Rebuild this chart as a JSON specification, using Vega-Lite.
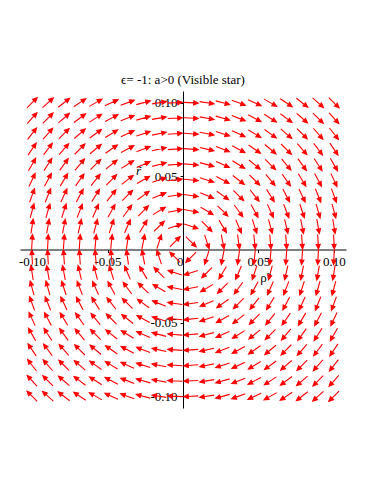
{
  "$schema": "https://vega.github.io/schema/vega-lite/v6.json",
  "autosize": {"type": "none"},
  "padding": {"left": 20, "top": 91, "right": 28, "bottom": 76},
  "width": 326,
  "height": 317,
  "background": "white",
  "title": {"text": "ϵ= -1: a>0 (Visible star)", "font": "Liberation Serif", "fontSize": 13, "fontWeight": "normal", "color": "black", "offset": 4},
  "config": {
    "view": {"stroke": null},
    "axis": {"grid": false, "labelFont": "Liberation Serif", "labelFontSize": 13, "labelColor": "black", "domainColor": "black", "tickColor": "black", "tickSize": 3, "labelPadding": 3, "labelFlush": false, "titleFont": "Liberation Serif", "titleFontSize": 13, "titleFontWeight": "normal", "titleColor": "black"}
  },
  "data": {"values": [
    {"rho":-0.1,"r":0.1,"dir":45},{"rho":-0.0895,"r":0.1,"dir":48},{"rho":-0.0789,"r":0.1,"dir":52},{"rho":-0.0684,"r":0.1,"dir":56},{"rho":-0.0579,"r":0.1,"dir":60},{"rho":-0.0474,"r":0.1,"dir":65},{"rho":-0.0368,"r":0.1,"dir":70},{"rho":-0.0263,"r":0.1,"dir":75},{"rho":-0.0158,"r":0.1,"dir":81},{"rho":-0.0053,"r":0.1,"dir":87},
    {"rho":0.0053,"r":0.1,"dir":93},{"rho":0.0158,"r":0.1,"dir":99},{"rho":0.0263,"r":0.1,"dir":105},{"rho":0.0368,"r":0.1,"dir":110},{"rho":0.0474,"r":0.1,"dir":115},{"rho":0.0579,"r":0.1,"dir":120},{"rho":0.0684,"r":0.1,"dir":124},{"rho":0.0789,"r":0.1,"dir":128},{"rho":0.0895,"r":0.1,"dir":132},{"rho":0.1,"r":0.1,"dir":135},

    {"rho":-0.1,"r":0.0895,"dir":42},{"rho":-0.0895,"r":0.0895,"dir":45},{"rho":-0.0789,"r":0.0895,"dir":49},{"rho":-0.0684,"r":0.0895,"dir":53},{"rho":-0.0579,"r":0.0895,"dir":57},{"rho":-0.0474,"r":0.0895,"dir":62},{"rho":-0.0368,"r":0.0895,"dir":68},{"rho":-0.0263,"r":0.0895,"dir":74},{"rho":-0.0158,"r":0.0895,"dir":80},{"rho":-0.0053,"r":0.0895,"dir":87},
    {"rho":0.0053,"r":0.0895,"dir":93},{"rho":0.0158,"r":0.0895,"dir":100},{"rho":0.0263,"r":0.0895,"dir":106},{"rho":0.0368,"r":0.0895,"dir":112},{"rho":0.0474,"r":0.0895,"dir":118},{"rho":0.0579,"r":0.0895,"dir":123},{"rho":0.0684,"r":0.0895,"dir":127},{"rho":0.0789,"r":0.0895,"dir":131},{"rho":0.0895,"r":0.0895,"dir":135},{"rho":0.1,"r":0.0895,"dir":138},

    {"rho":-0.1,"r":0.0789,"dir":38},{"rho":-0.0895,"r":0.0789,"dir":41},{"rho":-0.0789,"r":0.0789,"dir":45},{"rho":-0.0684,"r":0.0789,"dir":49},{"rho":-0.0579,"r":0.0789,"dir":54},{"rho":-0.0474,"r":0.0789,"dir":59},{"rho":-0.0368,"r":0.0789,"dir":65},{"rho":-0.0263,"r":0.0789,"dir":72},{"rho":-0.0158,"r":0.0789,"dir":79},{"rho":-0.0053,"r":0.0789,"dir":86},
    {"rho":0.0053,"r":0.0789,"dir":94},{"rho":0.0158,"r":0.0789,"dir":101},{"rho":0.0263,"r":0.0789,"dir":108},{"rho":0.0368,"r":0.0789,"dir":115},{"rho":0.0474,"r":0.0789,"dir":121},{"rho":0.0579,"r":0.0789,"dir":126},{"rho":0.0684,"r":0.0789,"dir":131},{"rho":0.0789,"r":0.0789,"dir":135},{"rho":0.0895,"r":0.0789,"dir":139},{"rho":0.1,"r":0.0789,"dir":142},

    {"rho":-0.1,"r":0.0684,"dir":34},{"rho":-0.0895,"r":0.0684,"dir":37},{"rho":-0.0789,"r":0.0684,"dir":41},{"rho":-0.0684,"r":0.0684,"dir":45},{"rho":-0.0579,"r":0.0684,"dir":50},{"rho":-0.0474,"r":0.0684,"dir":55},{"rho":-0.0368,"r":0.0684,"dir":62},{"rho":-0.0263,"r":0.0684,"dir":69},{"rho":-0.0158,"r":0.0684,"dir":77},{"rho":-0.0053,"r":0.0684,"dir":86},
    {"rho":0.0053,"r":0.0684,"dir":94},{"rho":0.0158,"r":0.0684,"dir":103},{"rho":0.0263,"r":0.0684,"dir":111},{"rho":0.0368,"r":0.0684,"dir":118},{"rho":0.0474,"r":0.0684,"dir":125},{"rho":0.0579,"r":0.0684,"dir":130},{"rho":0.0684,"r":0.0684,"dir":135},{"rho":0.0789,"r":0.0684,"dir":139},{"rho":0.0895,"r":0.0684,"dir":143},{"rho":0.1,"r":0.0684,"dir":146},

    {"rho":-0.1,"r":0.0579,"dir":30},{"rho":-0.0895,"r":0.0579,"dir":33},{"rho":-0.0789,"r":0.0579,"dir":36},{"rho":-0.0684,"r":0.0579,"dir":40},{"rho":-0.0579,"r":0.0579,"dir":45},{"rho":-0.0474,"r":0.0579,"dir":51},{"rho":-0.0368,"r":0.0579,"dir":58},{"rho":-0.0263,"r":0.0579,"dir":66},{"rho":-0.0158,"r":0.0579,"dir":75},{"rho":-0.0053,"r":0.0579,"dir":85},
    {"rho":0.0053,"r":0.0579,"dir":95},{"rho":0.0158,"r":0.0579,"dir":105},{"rho":0.0263,"r":0.0579,"dir":114},{"rho":0.0368,"r":0.0579,"dir":122},{"rho":0.0474,"r":0.0579,"dir":129},{"rho":0.0579,"r":0.0579,"dir":135},{"rho":0.0684,"r":0.0579,"dir":140},{"rho":0.0789,"r":0.0579,"dir":144},{"rho":0.0895,"r":0.0579,"dir":147},{"rho":0.1,"r":0.0579,"dir":150},

    {"rho":-0.1,"r":0.0474,"dir":25},{"rho":-0.0895,"r":0.0474,"dir":28},{"rho":-0.0789,"r":0.0474,"dir":31},{"rho":-0.0684,"r":0.0474,"dir":35},{"rho":-0.0579,"r":0.0474,"dir":39},{"rho":-0.0474,"r":0.0474,"dir":45},{"rho":-0.0368,"r":0.0474,"dir":52},{"rho":-0.0263,"r":0.0474,"dir":61},{"rho":-0.0158,"r":0.0474,"dir":72},{"rho":-0.0053,"r":0.0474,"dir":84},
    {"rho":0.0053,"r":0.0474,"dir":96},{"rho":0.0158,"r":0.0474,"dir":108},{"rho":0.0263,"r":0.0474,"dir":119},{"rho":0.0368,"r":0.0474,"dir":128},{"rho":0.0474,"r":0.0474,"dir":135},{"rho":0.0579,"r":0.0474,"dir":141},{"rho":0.0684,"r":0.0474,"dir":145},{"rho":0.0789,"r":0.0474,"dir":149},{"rho":0.0895,"r":0.0474,"dir":152},{"rho":0.1,"r":0.0474,"dir":155},

    {"rho":-0.1,"r":0.0368,"dir":20},{"rho":-0.0895,"r":0.0368,"dir":22},{"rho":-0.0789,"r":0.0368,"dir":25},{"rho":-0.0684,"r":0.0368,"dir":28},{"rho":-0.0579,"r":0.0368,"dir":32},{"rho":-0.0474,"r":0.0368,"dir":38},{"rho":-0.0368,"r":0.0368,"dir":45},{"rho":-0.0263,"r":0.0368,"dir":54},{"rho":-0.0158,"r":0.0368,"dir":67},{"rho":-0.0053,"r":0.0368,"dir":82},
    {"rho":0.0053,"r":0.0368,"dir":98},{"rho":0.0158,"r":0.0368,"dir":113},{"rho":0.0263,"r":0.0368,"dir":126},{"rho":0.0368,"r":0.0368,"dir":135},{"rho":0.0474,"r":0.0368,"dir":142},{"rho":0.0579,"r":0.0368,"dir":148},{"rho":0.0684,"r":0.0368,"dir":152},{"rho":0.0789,"r":0.0368,"dir":155},{"rho":0.0895,"r":0.0368,"dir":158},{"rho":0.1,"r":0.0368,"dir":160},

    {"rho":-0.1,"r":0.0263,"dir":15},{"rho":-0.0895,"r":0.0263,"dir":16},{"rho":-0.0789,"r":0.0263,"dir":18},{"rho":-0.0684,"r":0.0263,"dir":21},{"rho":-0.0579,"r":0.0263,"dir":24},{"rho":-0.0474,"r":0.0263,"dir":29},{"rho":-0.0368,"r":0.0263,"dir":36},{"rho":-0.0263,"r":0.0263,"dir":45},{"rho":-0.0158,"r":0.0263,"dir":59},{"rho":-0.0053,"r":0.0263,"dir":79},
    {"rho":0.0053,"r":0.0263,"dir":101},{"rho":0.0158,"r":0.0263,"dir":121},{"rho":0.0263,"r":0.0263,"dir":135},{"rho":0.0368,"r":0.0263,"dir":144},{"rho":0.0474,"r":0.0263,"dir":151},{"rho":0.0579,"r":0.0263,"dir":156},{"rho":0.0684,"r":0.0263,"dir":159},{"rho":0.0789,"r":0.0263,"dir":162},{"rho":0.0895,"r":0.0263,"dir":164},{"rho":0.1,"r":0.0263,"dir":165},

    {"rho":-0.1,"r":0.0158,"dir":9},{"rho":-0.0895,"r":0.0158,"dir":10},{"rho":-0.0789,"r":0.0158,"dir":11},{"rho":-0.0684,"r":0.0158,"dir":13},{"rho":-0.0579,"r":0.0158,"dir":15},{"rho":-0.0474,"r":0.0158,"dir":18},{"rho":-0.0368,"r":0.0158,"dir":23},{"rho":-0.0263,"r":0.0158,"dir":31},{"rho":-0.0158,"r":0.0158,"dir":45},{"rho":-0.0053,"r":0.0158,"dir":72},
    {"rho":0.0053,"r":0.0158,"dir":108},{"rho":0.0158,"r":0.0158,"dir":135},{"rho":0.0263,"r":0.0158,"dir":149},{"rho":0.0368,"r":0.0158,"dir":157},{"rho":0.0474,"r":0.0158,"dir":162},{"rho":0.0579,"r":0.0158,"dir":165},{"rho":0.0684,"r":0.0158,"dir":167},{"rho":0.0789,"r":0.0158,"dir":169},{"rho":0.0895,"r":0.0158,"dir":170},{"rho":0.1,"r":0.0158,"dir":171},

    {"rho":-0.1,"r":0.0053,"dir":3},{"rho":-0.0895,"r":0.0053,"dir":3},{"rho":-0.0789,"r":0.0053,"dir":4},{"rho":-0.0684,"r":0.0053,"dir":4},{"rho":-0.0579,"r":0.0053,"dir":5},{"rho":-0.0474,"r":0.0053,"dir":6},{"rho":-0.0368,"r":0.0053,"dir":8},{"rho":-0.0263,"r":0.0053,"dir":11},{"rho":-0.0158,"r":0.0053,"dir":18},{"rho":-0.0053,"r":0.0053,"dir":45},
    {"rho":0.0053,"r":0.0053,"dir":135},{"rho":0.0158,"r":0.0053,"dir":162},{"rho":0.0263,"r":0.0053,"dir":169},{"rho":0.0368,"r":0.0053,"dir":172},{"rho":0.0474,"r":0.0053,"dir":174},{"rho":0.0579,"r":0.0053,"dir":175},{"rho":0.0684,"r":0.0053,"dir":176},{"rho":0.0789,"r":0.0053,"dir":176},{"rho":0.0895,"r":0.0053,"dir":177},{"rho":0.1,"r":0.0053,"dir":177},

    {"rho":-0.1,"r":-0.0053,"dir":357},{"rho":-0.0895,"r":-0.0053,"dir":357},{"rho":-0.0789,"r":-0.0053,"dir":356},{"rho":-0.0684,"r":-0.0053,"dir":356},{"rho":-0.0579,"r":-0.0053,"dir":355},{"rho":-0.0474,"r":-0.0053,"dir":354},{"rho":-0.0368,"r":-0.0053,"dir":352},{"rho":-0.0263,"r":-0.0053,"dir":349},{"rho":-0.0158,"r":-0.0053,"dir":342},{"rho":-0.0053,"r":-0.0053,"dir":315},
    {"rho":0.0053,"r":-0.0053,"dir":225},{"rho":0.0158,"r":-0.0053,"dir":198},{"rho":0.0263,"r":-0.0053,"dir":191},{"rho":0.0368,"r":-0.0053,"dir":188},{"rho":0.0474,"r":-0.0053,"dir":186},{"rho":0.0579,"r":-0.0053,"dir":185},{"rho":0.0684,"r":-0.0053,"dir":184},{"rho":0.0789,"r":-0.0053,"dir":184},{"rho":0.0895,"r":-0.0053,"dir":183},{"rho":0.1,"r":-0.0053,"dir":183},

    {"rho":-0.1,"r":-0.0158,"dir":351},{"rho":-0.0895,"r":-0.0158,"dir":350},{"rho":-0.0789,"r":-0.0158,"dir":349},{"rho":-0.0684,"r":-0.0158,"dir":347},{"rho":-0.0579,"r":-0.0158,"dir":345},{"rho":-0.0474,"r":-0.0158,"dir":342},{"rho":-0.0368,"r":-0.0158,"dir":337},{"rho":-0.0263,"r":-0.0158,"dir":329},{"rho":-0.0158,"r":-0.0158,"dir":315},{"rho":-0.0053,"r":-0.0158,"dir":288},
    {"rho":0.0053,"r":-0.0158,"dir":252},{"rho":0.0158,"r":-0.0158,"dir":225},{"rho":0.0263,"r":-0.0158,"dir":211},{"rho":0.0368,"r":-0.0158,"dir":203},{"rho":0.0474,"r":-0.0158,"dir":198},{"rho":0.0579,"r":-0.0158,"dir":195},{"rho":0.0684,"r":-0.0158,"dir":193},{"rho":0.0789,"r":-0.0158,"dir":191},{"rho":0.0895,"r":-0.0158,"dir":190},{"rho":0.1,"r":-0.0158,"dir":189},

    {"rho":-0.1,"r":-0.0263,"dir":345},{"rho":-0.0895,"r":-0.0263,"dir":344},{"rho":-0.0789,"r":-0.0263,"dir":342},{"rho":-0.0684,"r":-0.0263,"dir":339},{"rho":-0.0579,"r":-0.0263,"dir":336},{"rho":-0.0474,"r":-0.0263,"dir":331},{"rho":-0.0368,"r":-0.0263,"dir":324},{"rho":-0.0263,"r":-0.0263,"dir":315},{"rho":-0.0158,"r":-0.0263,"dir":301},{"rho":-0.0053,"r":-0.0263,"dir":281},
    {"rho":0.0053,"r":-0.0263,"dir":259},{"rho":0.0158,"r":-0.0263,"dir":239},{"rho":0.0263,"r":-0.0263,"dir":225},{"rho":0.0368,"r":-0.0263,"dir":216},{"rho":0.0474,"r":-0.0263,"dir":209},{"rho":0.0579,"r":-0.0263,"dir":204},{"rho":0.0684,"r":-0.0263,"dir":201},{"rho":0.0789,"r":-0.0263,"dir":198},{"rho":0.0895,"r":-0.0263,"dir":196},{"rho":0.1,"r":-0.0263,"dir":195},

    {"rho":-0.1,"r":-0.0368,"dir":340},{"rho":-0.0895,"r":-0.0368,"dir":338},{"rho":-0.0789,"r":-0.0368,"dir":335},{"rho":-0.0684,"r":-0.0368,"dir":332},{"rho":-0.0579,"r":-0.0368,"dir":328},{"rho":-0.0474,"r":-0.0368,"dir":322},{"rho":-0.0368,"r":-0.0368,"dir":315},{"rho":-0.0263,"r":-0.0368,"dir":306},{"rho":-0.0158,"r":-0.0368,"dir":293},{"rho":-0.0053,"r":-0.0368,"dir":278},
    {"rho":0.0053,"r":-0.0368,"dir":262},{"rho":0.0158,"r":-0.0368,"dir":247},{"rho":0.0263,"r":-0.0368,"dir":234},{"rho":0.0368,"r":-0.0368,"dir":225},{"rho":0.0474,"r":-0.0368,"dir":218},{"rho":0.0579,"r":-0.0368,"dir":212},{"rho":0.0684,"r":-0.0368,"dir":208},{"rho":0.0789,"r":-0.0368,"dir":205},{"rho":0.0895,"r":-0.0368,"dir":202},{"rho":0.1,"r":-0.0368,"dir":200},

    {"rho":-0.1,"r":-0.0474,"dir":335},{"rho":-0.0895,"r":-0.0474,"dir":332},{"rho":-0.0789,"r":-0.0474,"dir":329},{"rho":-0.0684,"r":-0.0474,"dir":325},{"rho":-0.0579,"r":-0.0474,"dir":321},{"rho":-0.0474,"r":-0.0474,"dir":315},{"rho":-0.0368,"r":-0.0474,"dir":308},{"rho":-0.0263,"r":-0.0474,"dir":299},{"rho":-0.0158,"r":-0.0474,"dir":288},{"rho":-0.0053,"r":-0.0474,"dir":276},
    {"rho":0.0053,"r":-0.0474,"dir":264},{"rho":0.0158,"r":-0.0474,"dir":252},{"rho":0.0263,"r":-0.0474,"dir":241},{"rho":0.0368,"r":-0.0474,"dir":232},{"rho":0.0474,"r":-0.0474,"dir":225},{"rho":0.0579,"r":-0.0474,"dir":219},{"rho":0.0684,"r":-0.0474,"dir":215},{"rho":0.0789,"r":-0.0474,"dir":211},{"rho":0.0895,"r":-0.0474,"dir":208},{"rho":0.1,"r":-0.0474,"dir":205},

    {"rho":-0.1,"r":-0.0579,"dir":330},{"rho":-0.0895,"r":-0.0579,"dir":327},{"rho":-0.0789,"r":-0.0579,"dir":324},{"rho":-0.0684,"r":-0.0579,"dir":320},{"rho":-0.0579,"r":-0.0579,"dir":315},{"rho":-0.0474,"r":-0.0579,"dir":309},{"rho":-0.0368,"r":-0.0579,"dir":302},{"rho":-0.0263,"r":-0.0579,"dir":294},{"rho":-0.0158,"r":-0.0579,"dir":285},{"rho":-0.0053,"r":-0.0579,"dir":275},
    {"rho":0.0053,"r":-0.0579,"dir":265},{"rho":0.0158,"r":-0.0579,"dir":255},{"rho":0.0263,"r":-0.0579,"dir":246},{"rho":0.0368,"r":-0.0579,"dir":238},{"rho":0.0474,"r":-0.0579,"dir":231},{"rho":0.0579,"r":-0.0579,"dir":225},{"rho":0.0684,"r":-0.0579,"dir":220},{"rho":0.0789,"r":-0.0579,"dir":216},{"rho":0.0895,"r":-0.0579,"dir":213},{"rho":0.1,"r":-0.0579,"dir":210},

    {"rho":-0.1,"r":-0.0684,"dir":326},{"rho":-0.0895,"r":-0.0684,"dir":323},{"rho":-0.0789,"r":-0.0684,"dir":319},{"rho":-0.0684,"r":-0.0684,"dir":315},{"rho":-0.0579,"r":-0.0684,"dir":310},{"rho":-0.0474,"r":-0.0684,"dir":305},{"rho":-0.0368,"r":-0.0684,"dir":298},{"rho":-0.0263,"r":-0.0684,"dir":291},{"rho":-0.0158,"r":-0.0684,"dir":283},{"rho":-0.0053,"r":-0.0684,"dir":274},
    {"rho":0.0053,"r":-0.0684,"dir":266},{"rho":0.0158,"r":-0.0684,"dir":257},{"rho":0.0263,"r":-0.0684,"dir":249},{"rho":0.0368,"r":-0.0684,"dir":242},{"rho":0.0474,"r":-0.0684,"dir":235},{"rho":0.0579,"r":-0.0684,"dir":230},{"rho":0.0684,"r":-0.0684,"dir":225},{"rho":0.0789,"r":-0.0684,"dir":221},{"rho":0.0895,"r":-0.0684,"dir":217},{"rho":0.1,"r":-0.0684,"dir":214},

    {"rho":-0.1,"r":-0.0789,"dir":322},{"rho":-0.0895,"r":-0.0789,"dir":319},{"rho":-0.0789,"r":-0.0789,"dir":315},{"rho":-0.0684,"r":-0.0789,"dir":311},{"rho":-0.0579,"r":-0.0789,"dir":306},{"rho":-0.0474,"r":-0.0789,"dir":301},{"rho":-0.0368,"r":-0.0789,"dir":295},{"rho":-0.0263,"r":-0.0789,"dir":288},{"rho":-0.0158,"r":-0.0789,"dir":281},{"rho":-0.0053,"r":-0.0789,"dir":274},
    {"rho":0.0053,"r":-0.0789,"dir":266},{"rho":0.0158,"r":-0.0789,"dir":259},{"rho":0.0263,"r":-0.0789,"dir":252},{"rho":0.0368,"r":-0.0789,"dir":245},{"rho":0.0474,"r":-0.0789,"dir":239},{"rho":0.0579,"r":-0.0789,"dir":234},{"rho":0.0684,"r":-0.0789,"dir":229},{"rho":0.0789,"r":-0.0789,"dir":225},{"rho":0.0895,"r":-0.0789,"dir":221},{"rho":0.1,"r":-0.0789,"dir":218},

    {"rho":-0.1,"r":-0.0895,"dir":318},{"rho":-0.0895,"r":-0.0895,"dir":315},{"rho":-0.0789,"r":-0.0895,"dir":311},{"rho":-0.0684,"r":-0.0895,"dir":307},{"rho":-0.0579,"r":-0.0895,"dir":303},{"rho":-0.0474,"r":-0.0895,"dir":298},{"rho":-0.0368,"r":-0.0895,"dir":292},{"rho":-0.0263,"r":-0.0895,"dir":286},{"rho":-0.0158,"r":-0.0895,"dir":280},{"rho":-0.0053,"r":-0.0895,"dir":273},
    {"rho":0.0053,"r":-0.0895,"dir":267},{"rho":0.0158,"r":-0.0895,"dir":260},{"rho":0.0263,"r":-0.0895,"dir":254},{"rho":0.0368,"r":-0.0895,"dir":248},{"rho":0.0474,"r":-0.0895,"dir":242},{"rho":0.0579,"r":-0.0895,"dir":237},{"rho":0.0684,"r":-0.0895,"dir":233},{"rho":0.0789,"r":-0.0895,"dir":229},{"rho":0.0895,"r":-0.0895,"dir":225},{"rho":0.1,"r":-0.0895,"dir":222},

    {"rho":-0.1,"r":-0.1,"dir":315},{"rho":-0.0895,"r":-0.1,"dir":312},{"rho":-0.0789,"r":-0.1,"dir":308},{"rho":-0.0684,"r":-0.1,"dir":304},{"rho":-0.0579,"r":-0.1,"dir":300},{"rho":-0.0474,"r":-0.1,"dir":295},{"rho":-0.0368,"r":-0.1,"dir":290},{"rho":-0.0263,"r":-0.1,"dir":285},{"rho":-0.0158,"r":-0.1,"dir":279},{"rho":-0.0053,"r":-0.1,"dir":273},
    {"rho":0.0053,"r":-0.1,"dir":267},{"rho":0.0158,"r":-0.1,"dir":261},{"rho":0.0263,"r":-0.1,"dir":255},{"rho":0.0368,"r":-0.1,"dir":250},{"rho":0.0474,"r":-0.1,"dir":245},{"rho":0.0579,"r":-0.1,"dir":240},{"rho":0.0684,"r":-0.1,"dir":236},{"rho":0.0789,"r":-0.1,"dir":232},{"rho":0.0895,"r":-0.1,"dir":228},{"rho":0.1,"r":-0.1,"dir":225}
  ]},
  "mark": {"type": "point", "shape": "M0,1L0,-0.45M-0.28,-0.38L0,-1L0.28,-0.38Z", "filled": true, "fill": "#ff0000", "stroke": "#ff0000", "strokeWidth": 1.1, "opacity": 1, "size": 210},
  "encoding": {
    "x": {"field": "rho", "type": "quantitative", "scale": {"domain": [-0.108, 0.108], "nice": false, "zero": false},
      "axis": {"values": [-0.1, -0.05, 0, 0.05, 0.1], "offset": -158.5, "labelExpr": "datum.value == 0 ? '0' : (datum.value < 0 ? '-' : '') + format(abs(datum.value), '.2f')",
        "labelAlign": {"condition": {"test": "datum.value == 0", "value": "right"}, "value": "center"},
        "title": "ρ̃", "titleX": 243, "titleY": 28, "titleBaseline": "middle", "titleAlign": "center", "titleAngle": 0}},
    "y": {"field": "r", "type": "quantitative", "scale": {"domain": [-0.108, 0.108], "nice": false, "zero": false},
      "axis": {"values": [-0.1, -0.05, 0.05, 0.1], "offset": -163, "labelExpr": "(datum.value < 0 ? '-' : '') + format(abs(datum.value), '.2f')",
        "title": "r̃", "titleX": -45, "titleY": 79, "titleBaseline": "middle", "titleAlign": "center", "titleAngle": 0, "titleFontStyle": "italic"}},
    "angle": {"field": "dir", "type": "quantitative", "scale": {"domain": [0, 360], "range": [0, 360]}}
  }
}
